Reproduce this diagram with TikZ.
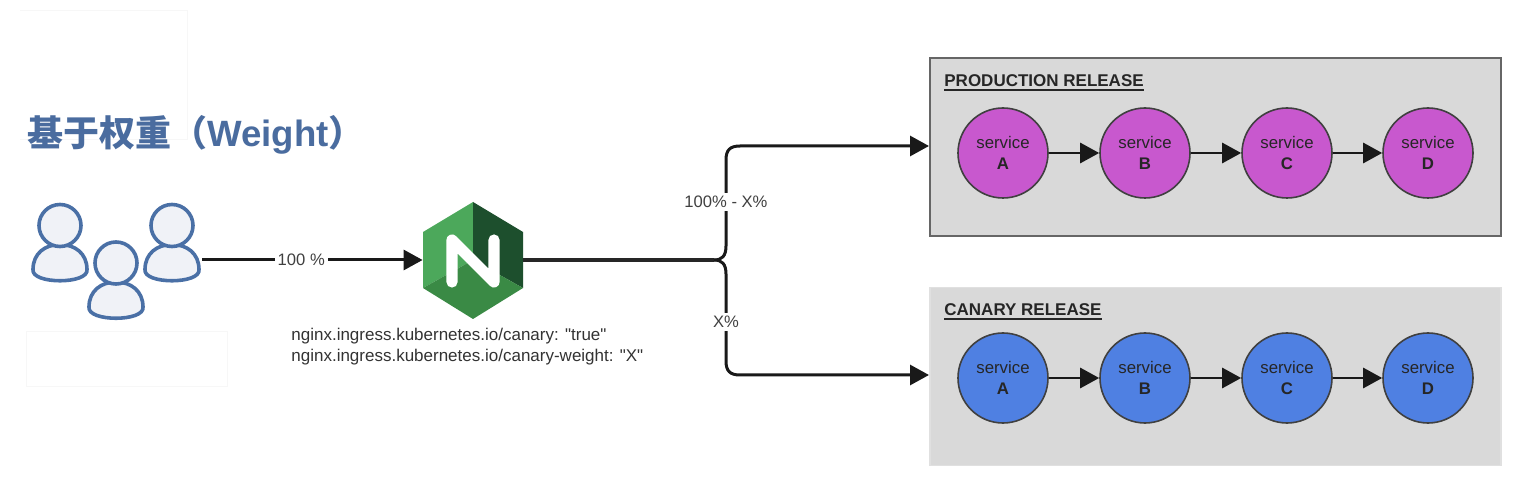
\documentclass[tikz,border=0pt]{standalone}
\usepackage{fontspec}
\setmainfont{Liberation Sans}[Ligatures=TeXOff]
\newfontfamily\cjk{Noto Sans CJK SC}
\usetikzlibrary{arrows.meta}
\definecolor{userblue}{HTML}{4A70A6}
\definecolor{userfill}{HTML}{F0F2F7}
\definecolor{titleblue}{HTML}{4A6C9F}
\definecolor{boxgrey}{HTML}{D9D9D9}
\definecolor{prodpurple}{HTML}{C858CE}
\definecolor{canblue}{HTML}{4F80E2}
\definecolor{ngxlight}{HTML}{4CA85B}
\definecolor{ngxmid}{HTML}{3A8A45}
\definecolor{ngxdark}{HTML}{1D4F2D}
\newcommand{\ulabel}[1]{\vtop{\hbox{#1}\kern1.3pt\hrule height 0.9pt}}
\tikzset{
  x=0.5pt,y=-0.5pt,
  flow/.style={line width=1.5pt,draw=black!90,-{Triangle[length=9.5pt,width=10pt]}},
  thinflow/.style={line width=1.4pt,draw=black!90,-{Triangle[length=9.5pt,width=10pt]}},
  stem/.style={line width=2pt,draw=black!85},
  svc/.style={circle,draw=black!75,line width=0.8pt,minimum size=45pt,inner sep=0pt,align=center,font=\fontsize{8.4}{10.6}\selectfont,text=black!85},
  prodsvc/.style={svc,fill=prodpurple},
  cansvc/.style={svc,fill=canblue},
  release/.style={rectangle,fill=boxgrey,minimum width=285.5pt,minimum height=89pt,inner sep=0pt},
  heading/.style={anchor=north west,inner sep=0pt,font=\fontsize{8.5}{10}\selectfont\bfseries,text=black!85},
  wirelabel/.style={fill=white,inner sep=1.5pt,font=\fontsize{8.3}{10}\selectfont,text=black!75},
  ghost/.style={draw=black!3,line width=0.4pt},
  person/.pic={
    \draw[userblue,fill=userfill,line width=1.8pt,line join=round]
      (-27,44) .. controls (-27,28) and (-15,19) .. (0,19)
      .. controls (15,19) and (27,28) .. (27,44)
      .. controls (29,59) and (-29,59) .. (-27,44) -- cycle;
    \draw[userblue,fill=userfill,line width=1.8pt] (0,0) circle (21);
  }
}
\begin{document}
\begin{tikzpicture}
\useasboundingbox (0,0) rectangle (1532,486);
\fill[white] (0,0) rectangle (1532,486);
% faint leftovers
\draw[ghost] (20,139) -- (187,139) -- (187,10) -- (20,10);
\draw[ghost] (26,331) rectangle (227,386);
% title
\node[anchor=west,inner sep=0pt,text=titleblue,font=\fontsize{18}{20}\selectfont\bfseries] (title) at (27,135) {{\cjk 基于权重（}{\fontsize{18.3}{20}\selectfont Weight}{\cjk ）}};
% users
\pic at (60,225.5) {person};
\pic at (172,225.5) {person};
\pic at (116,263) {person};
\coordinate (users) at (202,260);
% nginx
\node[minimum width=50pt,minimum height=58pt,inner sep=0pt] (nginx) at (473,260) {};
\fill[ngxlight] (473,202) -- (423,232) -- (423,288) -- (473,260) -- cycle;
\fill[ngxdark] (473,202) -- (523,232) -- (523,288) -- (473,260) -- cycle;
\fill[ngxmid] (423,288) -- (473,260) -- (523,288) -- (473,319) -- cycle;
\draw[white,line width=5.6pt,line cap=round,line join=round] (452,282) -- (452,240) -- (494,282) -- (494,240);
\node[anchor=north west,inner sep=0pt,align=left,font=\fontsize{8.5}{10.5}\selectfont,text=black!80] (annot) at (291,328)
  {nginx.ingress.kubernetes.io/canary: "true"\\nginx.ingress.kubernetes.io/canary-weight: "X"};
% release boxes
\node[release,draw=black!60,line width=1pt] (prod) at (1215.5,147) {};
\node[release,draw=black!12,line width=0.6pt] (can) at (1215.5,376.5) {};
\node[heading] (prodhead) at (944,74) {\ulabel{PRODUCTION RELEASE}};
\node[heading] (canhead) at (944,303) {\ulabel{CANARY RELEASE}};
% services
\node[prodsvc] (pa) at (1003,153) {service\\\textbf{A}};
\node[prodsvc] (pb) at (1145,153) {service\\\textbf{B}};
\node[prodsvc] (pc) at (1287,153) {service\\\textbf{C}};
\node[prodsvc] (pd) at (1428,153) {service\\\textbf{D}};
\node[cansvc] (ca) at (1003,378) {service\\\textbf{A}};
\node[cansvc] (cb) at (1145,378) {service\\\textbf{B}};
\node[cansvc] (cc) at (1287,378) {service\\\textbf{C}};
\node[cansvc] (cd) at (1428,378) {service\\\textbf{D}};
\draw[thinflow] (pa) -- (pb);
\draw[thinflow] (pb) -- (pc);
\draw[thinflow] (pc) -- (pd);
\draw[thinflow] (ca) -- (cb);
\draw[thinflow] (cb) -- (cc);
\draw[thinflow] (cc) -- (cd);
% connectors
\draw[flow] (users) -- node[wirelabel,pos=.45] {100 \%} (nginx.west);
\coordinate (fork) at (714,260);
\coordinate (prodin) at (929,146);
\coordinate (canin) at (929,375);
\draw[stem] (nginx.east) -- (fork);
\draw[flow] (fork) .. controls (722,260) and (726,256) .. (726,246) -- (726,160) .. controls (726,150) and (730,146) .. (740,146) -- (prodin);
\draw[flow] (fork) .. controls (722,260) and (726,264) .. (726,274) -- (726,361) .. controls (726,371) and (730,375) .. (740,375) -- (canin);
\node[wirelabel] (lblprod) at (726,202) {100\% - X\%};
\node[wirelabel] (lblcan) at (726,322) {X\%};
\end{tikzpicture}
\end{document}
